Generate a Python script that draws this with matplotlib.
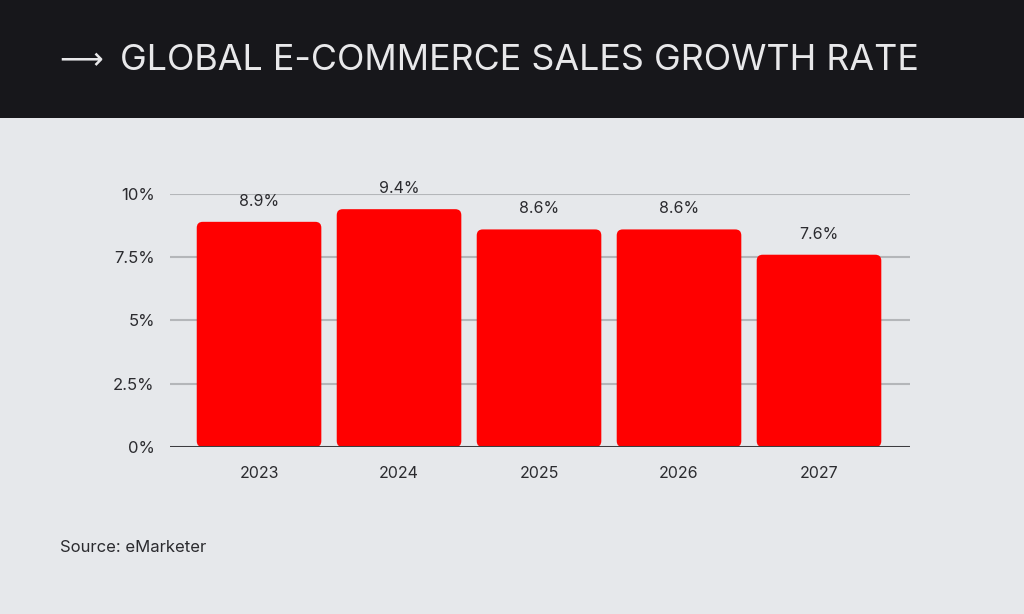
import numpy as np
import matplotlib.pyplot as plt
from matplotlib.patches import FancyBboxPatch, Rectangle

years = ['2023', '2024', '2025', '2026', '2027']
growth = [8.9, 9.4, 8.6, 8.6, 7.6]
yticks = [0, 2.5, 5, 7.5, 10]
ytick_labels = ['0%', '2.5%', '5%', '7.5%', '10%']

bg = '#e6e8eb'
header = '#17171b'
bar_red = '#ff0000'
txt = '#2b2b2f'

plt.rcParams['font.family'] = ['Inter', 'DejaVu Sans']

fig = plt.figure(figsize=(10.24, 6.14), dpi=100)
fig.patch.set_facecolor(bg)

# dark header band
fig.patches.append(Rectangle((0, 1 - 118 / 614), 1, 118 / 614, transform=fig.transFigure,
                             facecolor=header, edgecolor='none', zorder=0))
fig.text(59 / 1024, 1 - 61 / 614, '\u27f6', color='#e8e8ea', fontsize=22,
         va='center', ha='left', family=['DejaVu Sans'])
fig.text(120 / 1024, 1 - 61 / 614, 'GLOBAL E-COMMERCE SALES GROWTH RATE', color='#e8e8ea',
         fontsize=25.8, va='center', ha='left')

# axes: x 170..910 px, y 0% at 447 px, 10% at 194 px
ax = fig.add_axes([170 / 1024, 1 - 447 / 614, 740 / 1024, 253 / 614])
ax.set_facecolor(bg)
x = np.arange(len(years))
width = 0.89
ax.set_xlim(-0.636, 4.65)
ax.set_ylim(0, 10)

px_x = 140.0
px_y = 25.3
r = 6 / px_x
for xi, v in zip(x, growth):
    p = FancyBboxPatch((xi - width / 2, 0), width, v,
                       boxstyle='round,pad=0,rounding_size=%f' % r,
                       mutation_aspect=px_x / px_y,
                       facecolor=bar_red, edgecolor='none', zorder=3)
    ax.add_patch(p)
    ax.text(xi, v + 0.52, '%.1f%%' % v, ha='center', va='bottom',
            fontsize=11.5, color=txt, zorder=4)

for t in yticks[1:]:
    ax.axhline(t, color='#b4b6b9', lw=1.5, zorder=1)
ax.axhline(0, color='#3c3c40', lw=2.2, zorder=5)

ax.set_yticks(yticks)
ax.set_yticklabels(ytick_labels)
ax.set_xticks(x)
ax.set_xticklabels(years)
ax.tick_params(axis='y', length=0, pad=11, labelsize=12, labelcolor=txt)
ax.tick_params(axis='x', length=0, pad=14, labelsize=11.5, labelcolor=txt)
for s in ax.spines.values():
    s.set_visible(False)

fig.text(60 / 1024, 1 - 548 / 614, 'Source: eMarketer', fontsize=12, color=txt,
         va='center', ha='left')

fig.savefig('out.png', dpi=100, facecolor=bg)
